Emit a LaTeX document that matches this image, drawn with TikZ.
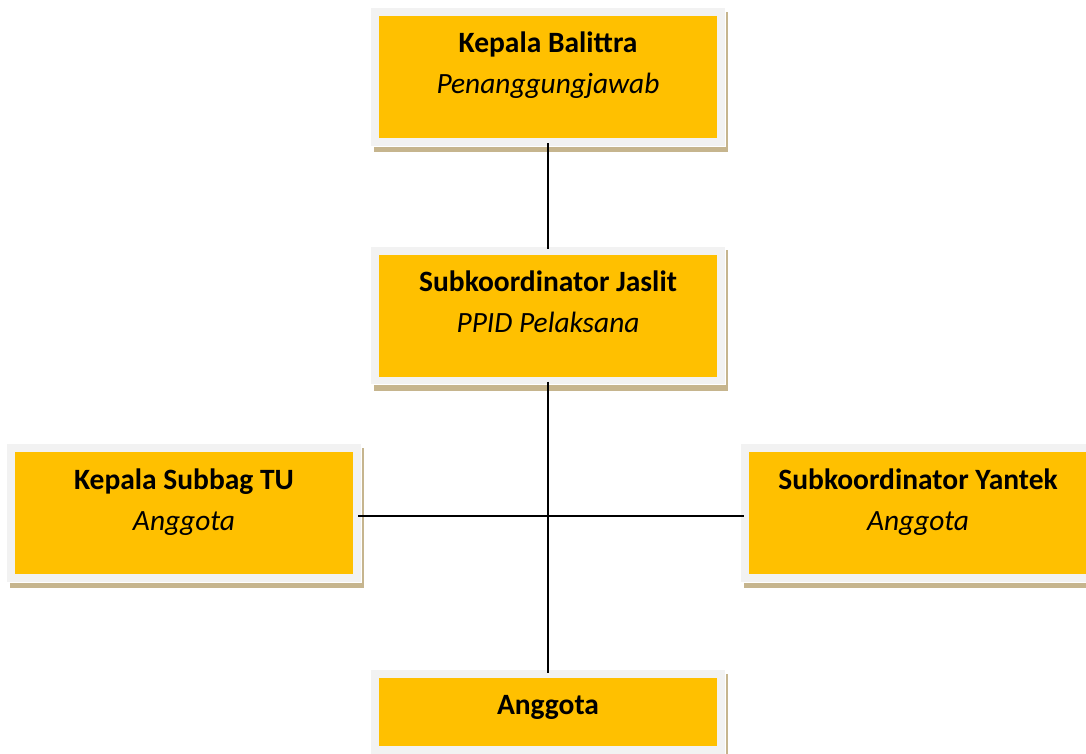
\documentclass[tikz,border=0pt]{standalone}
\usepackage{fontspec}
\setmainfont{Carlito}
\pgfdeclarelayer{bg}
\pgfsetlayers{bg,main}
\definecolor{boxyellow}{HTML}{FFC000}
\definecolor{framegray}{HTML}{F2F2F2}
\definecolor{shadowtan}{HTML}{C6B58E}
\tikzset{
  orgbox/.style={rectangle, fill=boxyellow, inner sep=0pt, minimum width=338pt},
  tall/.style={minimum height=122pt},
  short/.style={minimum height=68pt},
  frame/.style={fill=framegray, draw=white, line width=1pt},
  shade/.style={fill=shadowtan},
  title/.style={anchor=base, font=\fontsize{29.5}{35}\selectfont\bfseries},
  role/.style={anchor=base, font=\fontsize{29.4}{35}\selectfont\itshape},
  conn/.style={draw=black, line width=1.7pt, shorten <=5pt, shorten >=5pt}
}
\begin{document}
\begin{tikzpicture}[x=1pt,y=-1pt]
\useasboundingbox (0,0) rectangle (1086,753);
\clip (0,0) rectangle (1086,753);
% boxes (yellow areas)
\node[orgbox,tall] (kb) at (548,77) {};
\node[orgbox,tall] (js) at (548,315.5) {};
\node[orgbox,tall] (lt) at (184,513) {};
\node[orgbox,tall] (rt) at (918,513) {};
\node[orgbox,short] (ag) at (548,712) {};
% frames and shadows
\begin{pgfonlayer}{bg}
\foreach \n in {kb,js,lt,rt,ag}{
  \path[shade] ([xshift=-5pt,yshift=4pt]\n.north west) rectangle ([xshift=11pt,yshift=-14pt]\n.south east);
  \path[frame] ([xshift=-8pt,yshift=8pt]\n.north west) rectangle ([xshift=8pt,yshift=-8pt]\n.south east);
}
% connectors
\draw[conn] (kb.south) -- (js.north);
\draw[conn] (js.south) -- (ag.north);
\draw[conn] ([yshift=-3pt]lt.east) -- ([yshift=-3pt]rt.west);
\end{pgfonlayer}
% texts
\node[title] (kbt) at ([yshift=-37pt]kb.north) {Kepala Balittra};
\node[role] (kbr) at ([yshift=-78pt]kb.north) {Penanggungjawab};
\node[title] (jst) at ([yshift=-37pt]js.north) {Subkoordinator Jaslit};
\node[role] (jsr) at ([yshift=-78pt]js.north) {PPID Pelaksana};
\node[title] (ltt) at ([yshift=-38pt]lt.north) {Kepala Subbag TU};
\node[role] (ltr) at ([yshift=-79pt]lt.north) {Anggota};
\node[title] (rtt) at ([yshift=-38pt]rt.north) {Subkoordinator Yantek};
\node[role] (rtr) at ([yshift=-79pt]rt.north) {Anggota};
\node[title] (agt) at ([yshift=-37pt]ag.north) {Anggota};
\end{tikzpicture}
\end{document}
